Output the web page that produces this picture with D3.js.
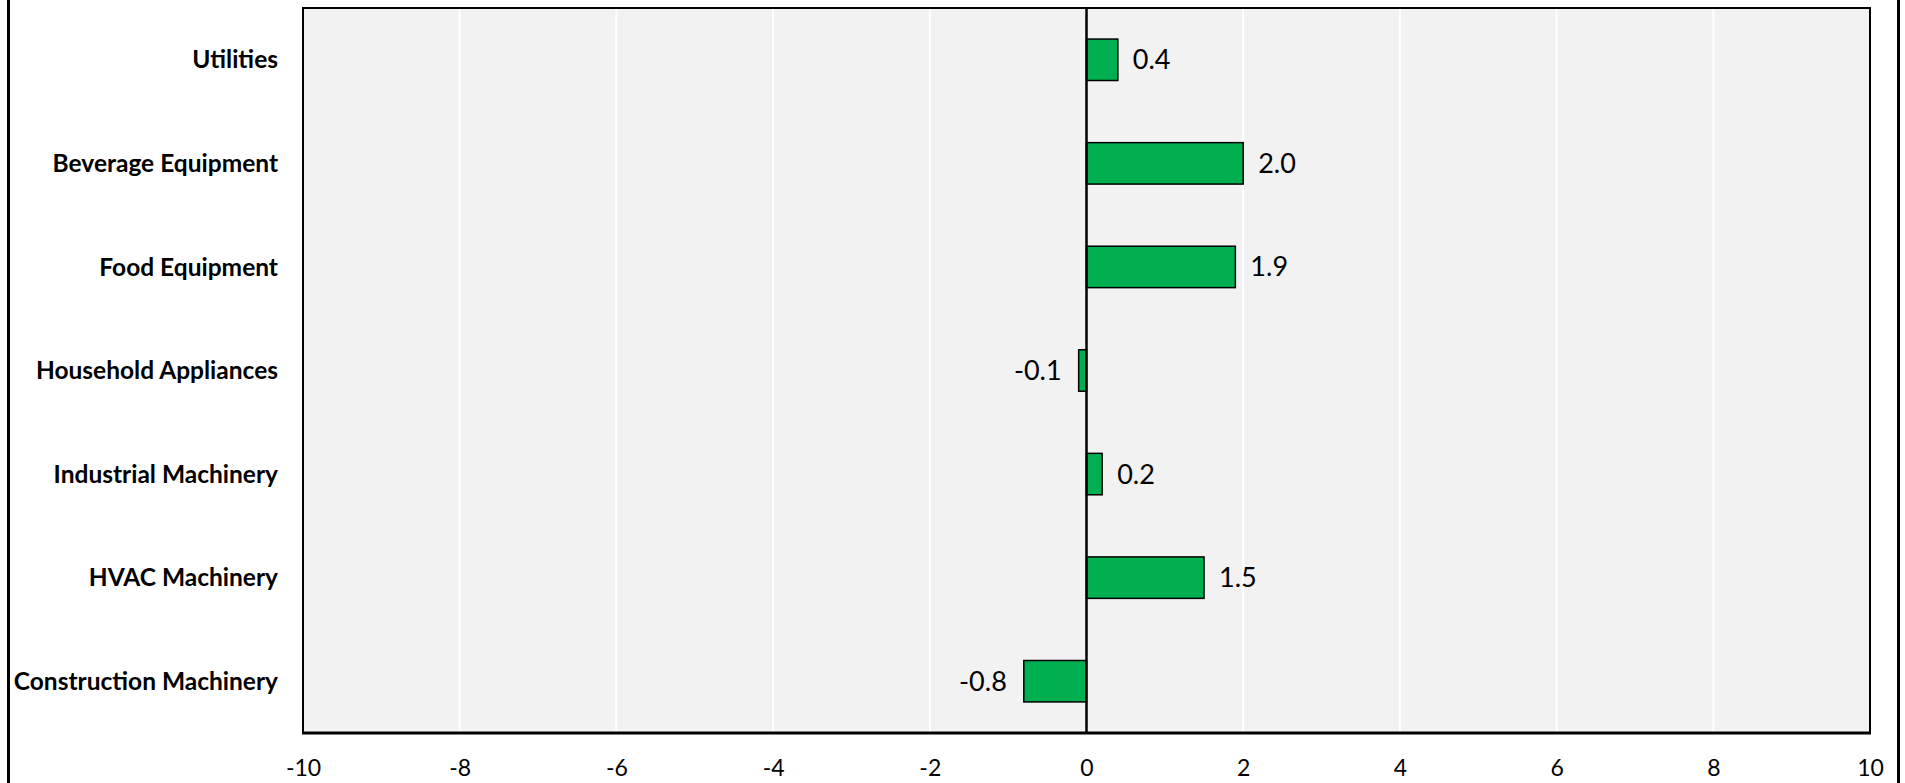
<!DOCTYPE html>
<html>
<head>
<meta charset="utf-8">
<script src="https://cdn.jsdelivr.net/npm/d3@7"></script>
<style>
  html, body { margin: 0; padding: 0; background: #ffffff; }
  svg { display: block; }
  text { font-family: Lato, "Open Sans", "Liberation Sans", sans-serif; fill: #000; }
</style>
</head>
<body>
<svg id="chart" width="1905" height="783"></svg>
<script>
// Categories listed top to bottom
const categories = [
  "Utilities",
  "Beverage Equipment",
  "Food Equipment",
  "Household Appliances",
  "Industrial Machinery",
  "HVAC Machinery",
  "Construction Machinery"
];
const values = [0.4, 2.0, 1.9, -0.1, 0.2, 1.5, -0.8];
const xTicks = [-10, -8, -6, -4, -2, 0, 2, 4, 6, 8, 10];

const W = 1905, H = 783;
const plot = { left: 303, right: 1870, top: 8, bottom: 733 };

// plain hyphen for negative numbers
const locale = d3.formatLocale({ decimal: ".", thousands: ",", grouping: [3], currency: ["", ""], minus: "-" });
const fmtTick = locale.format("d");
const fmtValue = locale.format(".1f");

const svg = d3.select("#chart");

// outer chart border (only its sides fall inside the view)
svg.append("rect")
  .attr("x", 8.5).attr("y", -10)
  .attr("width", 1890).attr("height", H + 20)
  .attr("fill", "none").attr("stroke", "#000").attr("stroke-width", 3);

const x = d3.scaleLinear().domain([-10, 10]).range([plot.left, plot.right]);
const y = d3.scaleBand().domain(categories).range([plot.top, plot.bottom]).paddingInner(0.6).paddingOuter(0.3);

// plot background
svg.append("rect")
  .attr("x", plot.left).attr("y", plot.top)
  .attr("width", plot.right - plot.left).attr("height", plot.bottom - plot.top)
  .attr("fill", "#f2f2f2");

// vertical gridlines
svg.append("g").selectAll("line")
  .data(xTicks.filter(t => t !== -10 && t !== 10 && t !== 0))
  .join("line")
  .attr("x1", d => x(d)).attr("x2", d => x(d))
  .attr("y1", plot.top).attr("y2", plot.bottom)
  .attr("stroke", "#ffffff").attr("stroke-width", 2);

// plot frame
svg.append("rect")
  .attr("x", plot.left).attr("y", plot.top)
  .attr("width", plot.right - plot.left).attr("height", plot.bottom - plot.top)
  .attr("fill", "none").attr("stroke", "#000").attr("stroke-width", 2);

// bars
svg.append("g").selectAll("rect")
  .data(categories)
  .join("rect")
  .attr("x", (d, i) => x(Math.min(0, values[i])))
  .attr("y", d => y(d))
  .attr("width", (d, i) => Math.abs(x(values[i]) - x(0)))
  .attr("height", y.bandwidth())
  .attr("fill", "#00b050")
  .attr("stroke", "#000").attr("stroke-width", 1.5);

// zero line
svg.append("line")
  .attr("x1", x(0)).attr("x2", x(0))
  .attr("y1", plot.top).attr("y2", plot.bottom)
  .attr("stroke", "#000").attr("stroke-width", 2.5);

// bottom axis line
svg.append("line")
  .attr("x1", plot.left - 1).attr("x2", plot.right + 1)
  .attr("y1", plot.bottom).attr("y2", plot.bottom)
  .attr("stroke", "#000").attr("stroke-width", 3);

// x-axis tick labels via d3 axis
const xAxis = d3.axisBottom(x).tickValues(xTicks).tickSize(0).tickPadding(0).tickFormat(fmtTick);
const gx = svg.append("g").attr("transform", `translate(0,${plot.bottom})`).call(xAxis);
gx.select(".domain").remove();
gx.selectAll("text")
  .attr("y", 35).attr("dy", "0.35em")
  .style("font-family", "Lato, 'Open Sans', sans-serif")
  .style("font-size", "23px").attr("fill", "#000");

// category labels via d3 axis
const yAxis = d3.axisLeft(y).tickSize(0).tickPadding(0);
const gy = svg.append("g").attr("transform", `translate(278,0)`).call(yAxis);
gy.select(".domain").remove();
gy.selectAll("text")
  .attr("x", 0).attr("dy", "0.35em")
  .style("font-family", "Lato, 'Open Sans', sans-serif")
  .style("font-size", "24.5px").style("font-weight", "700").attr("fill", "#000");

// value labels
svg.append("g").selectAll("text")
  .data(categories)
  .join("text")
  .attr("x", (d, i) => values[i] >= 0 ? x(values[i]) + 15 : x(values[i]) - 17)
  .attr("y", d => y(d) + y.bandwidth() / 2)
  .attr("dy", "0.35em")
  .attr("text-anchor", (d, i) => values[i] >= 0 ? "start" : "end")
  .style("font-size", "27px")
  .text((d, i) => fmtValue(values[i]));
</script>
</body>
</html>
